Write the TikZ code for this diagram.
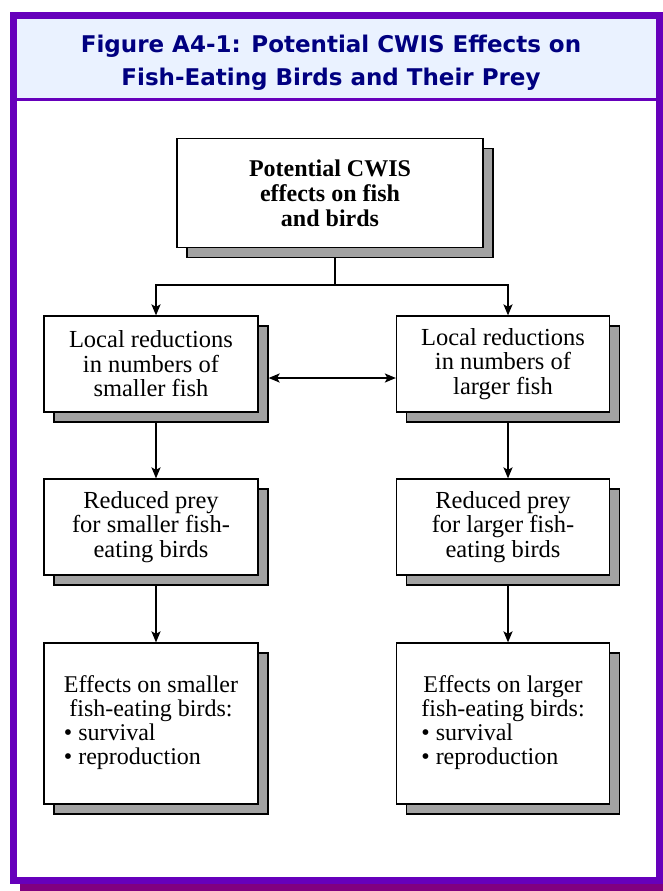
\documentclass[tikz,border=0pt]{standalone}
\usepackage{fontspec}
\setmainfont{Liberation Serif}
\newfontfamily\titlefont{DejaVu Sans}
\usetikzlibrary{arrows.meta, positioning, shadows}
\definecolor{framepurple}{RGB}{102,0,187}
\definecolor{framedark}{RGB}{128,0,128}
\definecolor{titleblue}{RGB}{234,242,255}
\definecolor{titletext}{RGB}{0,0,128}
\definecolor{shadowgray}{RGB}{162,162,162}

\begin{document}
\begin{tikzpicture}[x=1pt,y=-1pt,
    box/.style={rectangle,draw=black,line width=1.2pt,fill=white,inner sep=0pt,align=center,
        font=\fontsize{24.5}{24.5}\selectfont,
        drop shadow={shadow xshift=10pt,shadow yshift=-10pt,fill=shadowgray,draw=black,line width=1.2pt,opacity=1}},
    tip/.tip={Stealth[length=11pt,width=9pt,inset=2.5pt]},
    link/.style={line width=2pt,-tip}]
    \useasboundingbox (0,0) rectangle (663,891);
    % frame and title band
    \fill[framedark] (20,884) rectangle (663,891);
    \draw[framepurple,line width=7pt] (13.5,15.5) rectangle (659.5,880.5);
    \fill[titleblue] (17,19) rectangle (656,97.5);
    \draw[framepurple,line width=3pt] (17,99) -- (656,99);
    \node[font=\titlefont\bfseries\fontsize{23}{33}\selectfont,text=titletext,align=center] (title) at (331,63)
        {Figure A4-1: Potential CWIS Effects on\\Fish-Eating Birds and Their Prey};

    % boxes
    \node[box,minimum width=306pt,minimum height=109pt,font=\bfseries\fontsize{24}{25}\selectfont] (top) at (330,193)
        {Potential CWIS\\effects on fish\\and birds};
    \node[box,minimum width=214pt,minimum height=96pt] (small) at (151,364)
        {Local reductions\\in numbers of\\smaller fish};
    \node[box,minimum width=213pt,minimum height=96pt] (large) at (503,364)
        {Local reductions\\in numbers of\\larger fish};
    \node[box,minimum width=214pt,minimum height=96pt] (smallprey) at (151,527)
        {Reduced prey\\for smaller fish-\\eating birds};
    \node[box,minimum width=213pt,minimum height=96pt] (largeprey) at (503,527)
        {Reduced prey\\for larger fish-\\eating birds};
    \node[box,minimum width=214pt,minimum height=161pt,font=\fontsize{24}{23.5}\selectfont] (smallbirds) at (151,723.5)
        {\begin{tabular}{@{}l@{}}\multicolumn{1}{@{}c@{}}{Effects on smaller}\\\multicolumn{1}{@{}c@{}}{fish-eating birds:}\\\textbullet\ survival\\\textbullet\ reproduction\end{tabular}};
    \node[box,minimum width=213pt,minimum height=161pt,font=\fontsize{24}{23.5}\selectfont] (largebirds) at (503,723.5)
        {\begin{tabular}{@{}l@{}}\multicolumn{1}{@{}c@{}}{Effects on larger}\\\multicolumn{1}{@{}c@{}}{fish-eating birds:}\\\textbullet\ survival\\\textbullet\ reproduction\end{tabular}};

    % connectors
    \coordinate (split) at (335,285);
    \draw[line width=2pt] ([xshift=5pt,yshift=-10pt]top.south) -- (split);
    \draw[link] (split) -| ([xshift=5pt]small.north);
    \draw[link] (split) -| ([xshift=5pt]large.north);
    \draw[link,tip-tip] ([xshift=10pt,yshift=-14pt]small.east) -- ([yshift=-14pt]large.west);
    \draw[link] ([xshift=5pt,yshift=-10pt]small.south) -- ([xshift=5pt]smallprey.north);
    \draw[link] ([xshift=5pt,yshift=-10pt]large.south) -- ([xshift=5pt]largeprey.north);
    \draw[link] ([xshift=5pt,yshift=-10pt]smallprey.south) -- ([xshift=5pt]smallbirds.north);
    \draw[link] ([xshift=5pt,yshift=-10pt]largeprey.south) -- ([xshift=5pt]largebirds.north);
\end{tikzpicture}
\end{document}
